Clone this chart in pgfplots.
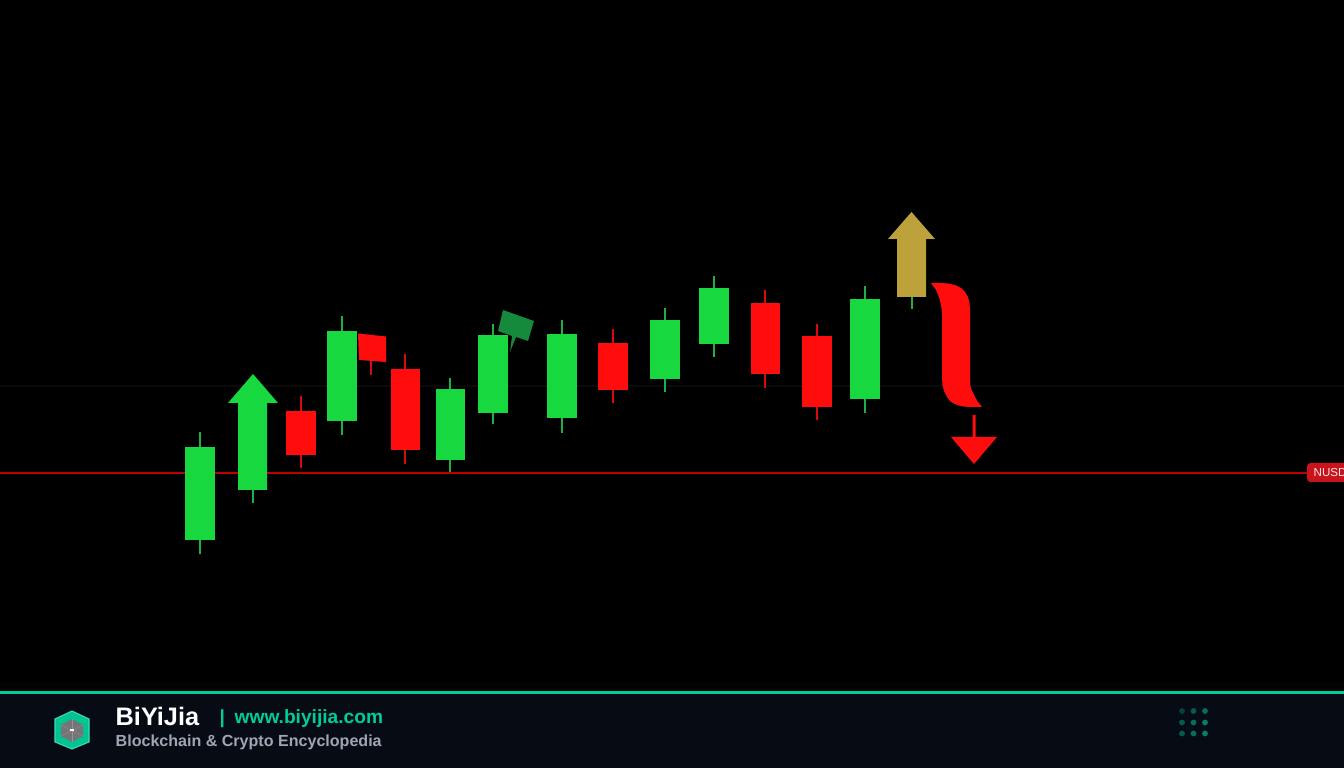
\documentclass[border=0pt]{standalone}
\usepackage{pgfplots}
\pgfplotsset{compat=1.18}
\usepackage{fontspec}
\setmainfont{Liberation Sans}
\definecolor{up}{HTML}{17D83F}
\definecolor{upwick}{HTML}{1FB044}
\definecolor{down}{HTML}{FF0C0C}
\definecolor{gold}{HTML}{BDA23C}
\definecolor{flag}{HTML}{158A3C}
\definecolor{foot}{HTML}{070B14}
\definecolor{teal}{HTML}{00CE9A}
% colour, x left, x right, body top, body bottom, x wick, wick top, wick bottom
\newcommand{\candle}[8]{%
  \addplot[#1wick, line width=0.6pt] coordinates {(#6,#7) (#6,#8)};
  \addplot[fill=#1, draw=none] coordinates {(#2,#4) (#3,#4) (#3,#5) (#2,#5)} -- cycle;
}
\colorlet{downwick}{down!85!black}
\begin{document}
\begin{tikzpicture}
\clip (0,0) rectangle (13.44,7.68);
\begin{axis}[
    at={(0,0)}, anchor=south west,
    width=13.44cm, height=7.68cm, scale only axis,
    xmin=0, xmax=1344, ymin=0, ymax=768, y dir=reverse,
    hide axis, clip=true,
  ]
  % background and footer
  \addplot[fill=black, draw=none] coordinates {(0,0) (1344,0) (1344,768) (0,768)} -- cycle;
  \addplot[fill=foot, draw=none] coordinates {(0,693) (1344,693) (1344,768) (0,768)} -- cycle;
  \addplot[fill=foot!25!black, draw=none] coordinates {(0,682) (1344,682) (1344,692) (0,692)} -- cycle;
  \addplot[teal, line width=0.57pt] coordinates {(0,692.5) (1344,692.5)};

  % levels
  \addplot[white!4!black, line width=0.4pt] coordinates {(0,386) (1344,386)};
  \addplot[red!75!black, line width=0.55pt] coordinates {(0,473) (1310,473)};

  % candles
  \candle{up}{185}{215}{447}{540}{200}{432}{554}
  \addplot[upwick, line width=0.6pt] coordinates {(253,480) (253,503)};
  \addplot[fill=up, draw=none] coordinates {(253,374) (278,403) (267,403) (267,490) (238,490) (238,403) (228,403)} -- cycle;
  \candle{down}{286}{316}{411}{455}{301}{396}{468}
  \candle{up}{327}{357}{331}{421}{342}{316}{435}
  \addplot[downwick, line width=0.6pt] coordinates {(371,360) (371,375)};
  \addplot[fill=down, draw=none] coordinates {(358,333.5) (386,336.5) (386,362) (359,360)} -- cycle;
  \candle{down}{391}{420}{369}{450}{405}{354}{464}
  \candle{up}{436}{465}{389}{460}{450}{378}{472}
  \candle{up}{478}{508}{335}{413}{493}{324}{424}
  \addplot[fill=flag, draw=none] coordinates {(503,310) (534,321) (528,341) (516,337) (510,352) (512,336) (498,331)} -- cycle;
  \candle{up}{547}{577}{334}{418}{562}{320}{433}
  \candle{down}{598}{628}{343}{390}{613}{329}{403}
  \candle{up}{650}{680}{320}{379}{665}{308}{392}
  \candle{up}{699}{729}{288}{344}{714}{276}{357}
  \candle{down}{751}{780}{303}{374}{765}{290}{388}
  \candle{down}{802}{832}{336}{407}{817}{324}{420}
  \candle{up}{850}{880}{299}{399}{865}{286}{413}

  % gold arrow with its wick
  \addplot[upwick, line width=0.5pt] coordinates {(912,297) (912,309)};
  \addplot[fill=gold, draw=none] coordinates {(911.5,212) (935,239) (926,239) (926,297) (897,297) (897,239) (888,239)} -- cycle;

  % red curved band
  \addplot[fill=down, draw=none] coordinates {
    (931,283) (940,283) (948,283.5) (955,285) (961,288) (965,292) (968,297) (969.5,303) (970,310)
    (970,380) (970.5,386) (972,391) (975,397) (978,402) (982,407)
    (970,407) (963,406.5) (957,405) (951,402) (947,397) (944,391) (942.5,385) (942,378)
    (942,312) (941,305) (939,297) (936,290)} -- cycle;

  % red down arrow
  \addplot[fill=down, draw=none] coordinates {(972.5,415) (975.5,415) (975.5,437) (997,437) (974,464) (951,437) (972.5,437)} -- cycle;

  % price tag
  \addplot[fill={rgb,255:red,200;green,20;blue,28}, draw=none, rounded corners=1pt] coordinates {(1307,463) (1350,463) (1350,482) (1307,482)} -- cycle;
  \node[anchor=base west, inner sep=0pt, text=white!90!red, font=\fontsize{3.3pt}{4pt}\selectfont] at (axis cs:1313,477) {NUSD};

  % logo
  \addplot[fill=teal!95!black, draw=teal!75!white, line width=0.3pt] coordinates {(72,711) (89,719) (89,742) (72,749) (55,742) (55,719)} -- cycle;
  \addplot[fill=white!46!black, draw=none] coordinates {(72,719) (83,725) (83,736) (72,742) (61,736) (61,725)} -- cycle;
  \addplot[white!58!black, line width=0.12pt] coordinates {(61,725) (83,736)};
  \addplot[white!58!black, line width=0.12pt] coordinates {(83,725) (61,736)};
  \addplot[white!58!black, line width=0.12pt] coordinates {(72,719) (72,742)};
  \addplot[white, line width=0.35pt] coordinates {(70,730) (74,730)};

  % dots at the right of the footer
  \addplot[only marks, mark=*, mark size=0.6pt, color=teal!28!foot, mark options={fill=teal!28!foot, draw=teal!28!foot}] coordinates {(1182,711)};
  \addplot[only marks, mark=*, mark size=0.6pt, color=teal!42!foot, mark options={fill=teal!42!foot, draw=teal!42!foot}] coordinates {(1193.5,711) (1182,722.5) (1182,733.5)};
  \addplot[only marks, mark=*, mark size=0.6pt, color=teal!52!foot, mark options={fill=teal!52!foot, draw=teal!52!foot}] coordinates {(1205,711) (1193.5,722.5) (1193.5,733.5)};
  \addplot[only marks, mark=*, mark size=0.6pt, color=teal!60!foot, mark options={fill=teal!60!foot, draw=teal!60!foot}] coordinates {(1205,722.5) (1205,733.5)};

  % footer text
  \node[anchor=base west, inner sep=0pt, text=white, font=\fontsize{7.2pt}{8pt}\selectfont\bfseries] at (axis cs:115,725) {BiYiJia};
  \node[anchor=base west, inner sep=0pt, text=teal, font=\fontsize{5.4pt}{6pt}\selectfont\bfseries] at (axis cs:219,723) {|};
  \node[anchor=base west, inner sep=0pt, text=teal, font=\fontsize{5.45pt}{6pt}\selectfont\bfseries] at (axis cs:234,723) {www.biyijia.com};
  \node[anchor=base west, inner sep=0pt, text={rgb,255:red,160;green,164;blue,180}, font=\fontsize{4.57pt}{6pt}\selectfont\bfseries] at (axis cs:115,746) {Blockchain \& Crypto Encyclopedia};
\end{axis}
\end{tikzpicture}
\end{document}
